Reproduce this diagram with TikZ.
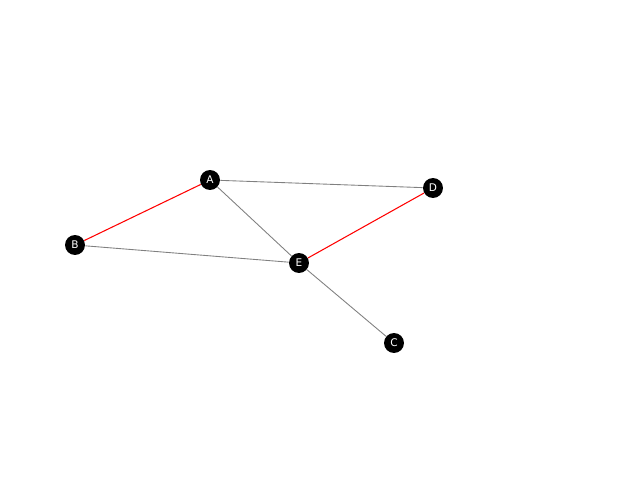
\documentclass[tikz,border=0pt]{standalone}
\usepackage{fontspec}
\setsansfont{DejaVu Sans}
\begin{document}
\begin{tikzpicture}[x=0.02cm, y=-0.02cm, every node/.style={circle, fill=black, text=white, minimum size=0.4cm, inner sep=0pt, font=\sffamily\fontsize{6}{7}\selectfont}, plain/.style={gray, line width=0.5pt}, marked/.style={red, line width=0.6pt}]
		\useasboundingbox (0, 0) rectangle (640, 480);
		\node (A) at (210, 180) {A};
		\node (B) at (75, 245) {B};
		\node (D) at (433, 188) {D};
		\node (E) at (299, 263) {E};
		\node (C) at (394, 343) {C};
		\draw[marked] (A) -- (B);
		\draw[plain] (A) -- (D);
		\draw[plain] (A) -- (E);
		\draw[plain] (B) -- (E);
		\draw[marked] (E) -- (D);
		\draw[plain] (E) -- (C);
	\end{tikzpicture}
\end{document}
